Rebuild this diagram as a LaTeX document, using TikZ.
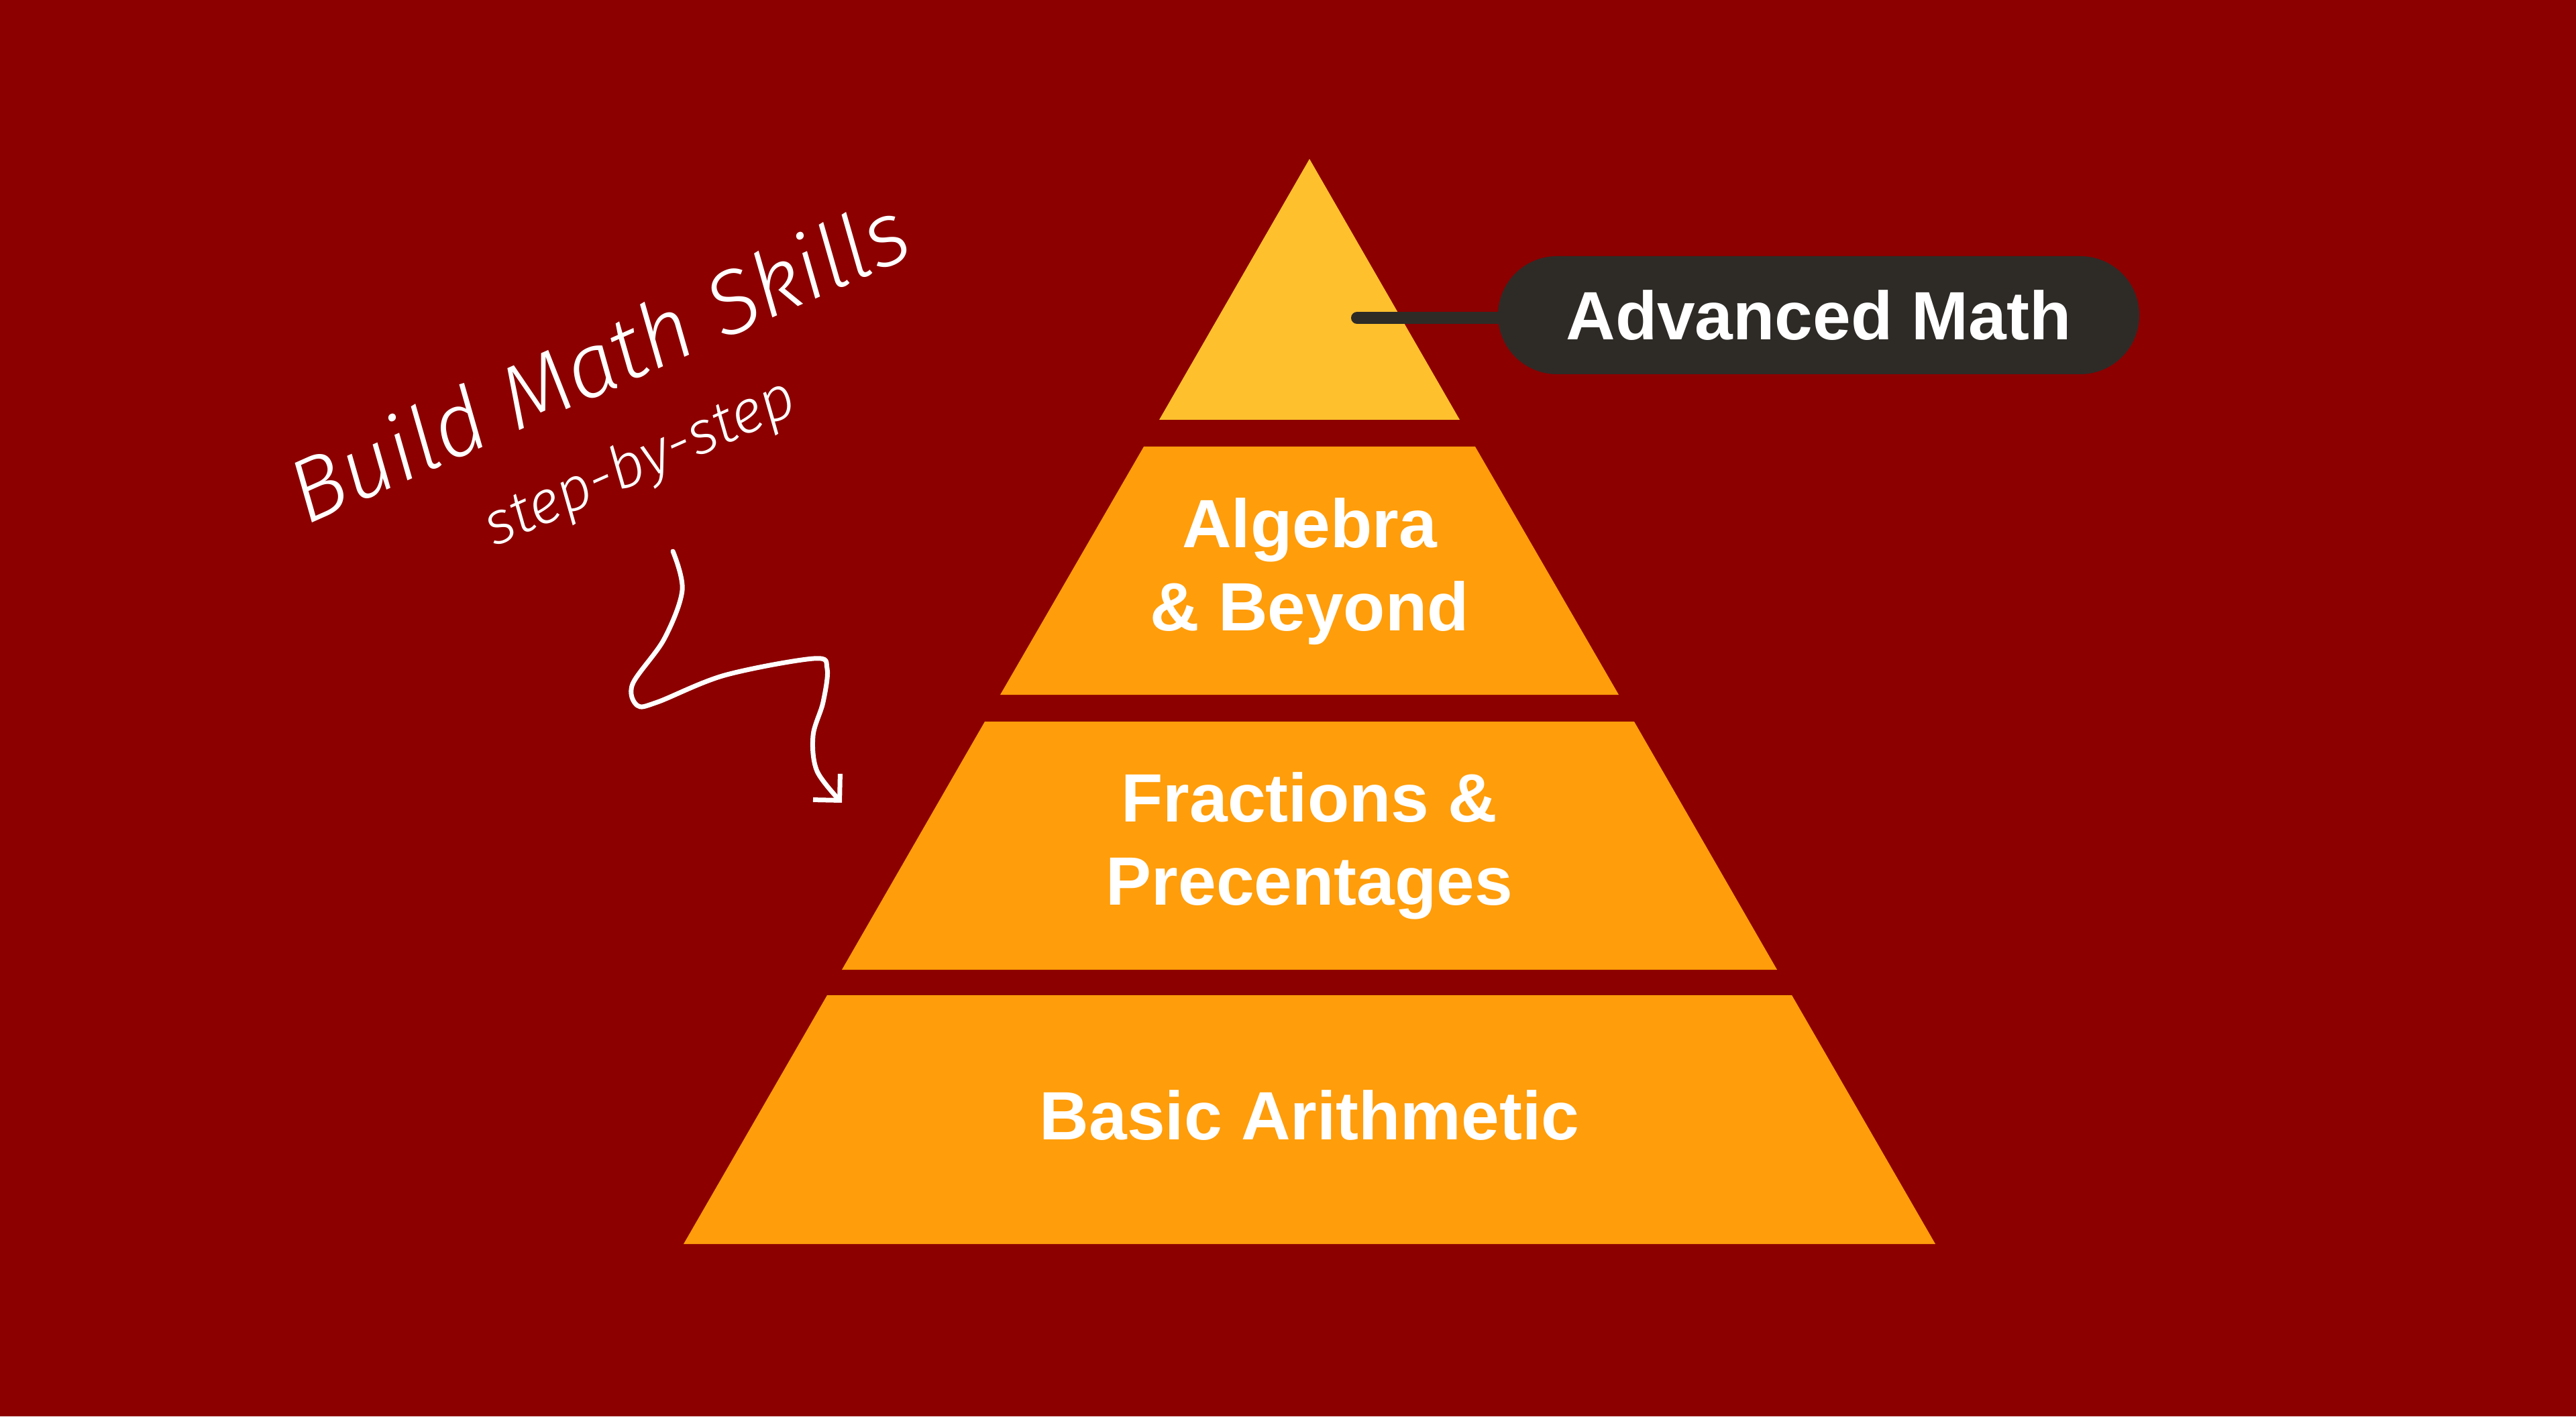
\documentclass[tikz,border=0pt]{standalone}
\usepackage{fontspec}
\setmainfont{Liberation Sans}
\newfontfamily\handfont{Fira Sans}[UprightFont={* Light}, ItalicFont={* Light Italic}]
\usetikzlibrary{arrows.meta}

\definecolor{bgred}{HTML}{8C0000}
\definecolor{tierorange}{HTML}{FF9D0A}
\definecolor{topyellow}{HTML}{FFC02D}
\definecolor{pilldark}{HTML}{2E2B27}

\tikzset{
	tierlabel/.style={text=white, align=center, font=\bfseries\fontsize{29}{35.3}\selectfont},
	pill/.style={fill=pilldark, text=white, rounded corners=0.88cm, minimum width=9.56cm,
		minimum height=1.76cm, font=\bfseries\fontsize{29}{35}\selectfont},
	hand/.style={text=white, rotate=24, anchor=base west, inner sep=0pt},
}

\begin{document}
\begin{tikzpicture}
	% background
	\fill [bgred] (0,0) rectangle (38.4,21.12);

	% pyramid
	\fill [topyellow] (19.52,18.75) -- (21.76,14.86) -- (17.28,14.86) -- cycle;
	\fill [tierorange] (17.05,14.46) -- (21.99,14.46) -- (24.13,10.76) -- (14.91,10.76) -- cycle;
	\fill [tierorange] (14.68,10.36) -- (24.36,10.36) -- (26.49,6.66) -- (12.55,6.66) -- cycle;
	\fill [tierorange] (12.33,6.28) -- (26.71,6.28) -- (28.85,2.57) -- (10.19,2.57) -- cycle;

	\node [tierlabel] (alg) at (19.52,12.60) {Algebra\\\& Beyond};
	\node [tierlabel] (frac) at (19.52,8.51) {Fractions \&\\Precentages};
	\node [tierlabel] (arith) at (19.52,4.49) {Basic Arithmetic};

	% label of the top
	\coordinate (advdot) at (20.23,16.38);
	\node [pill] (adv) at (27.11,16.42) {Advanced Math};
	\draw [pilldark, line width=0.18cm, line cap=round] (advdot) -- (advdot -| adv.west);

	% handwritten note
	\node [hand, font=\handfont\itshape\fontsize{38}{39}\selectfont] (title) at (4.56,13.28) {Build Math Skills};
	\node [hand, font=\handfont\itshape\fontsize{25.5}{27}\selectfont] (sub) at (7.37,12.96) {step-by-step};

	\coordinate (squigstart) at (10.03,12.90);
	\coordinate (squigtip) at (12.55,9.15);
	\draw [white, line width=0.07cm, line cap=round, -{Straight Barb[length=2.8mm,width=5.6mm]}]
		plot [smooth, tension=0.55] coordinates {(squigstart) (10.17,12.32) (9.90,11.59) (9.43,10.92)
		(9.50,10.60) (9.80,10.65) (10.80,11.05) (12.13,11.30) (12.33,11.15) (12.27,10.65)
		(12.12,10.15) (12.18,9.62) (squigtip)};
\end{tikzpicture}
\end{document}
